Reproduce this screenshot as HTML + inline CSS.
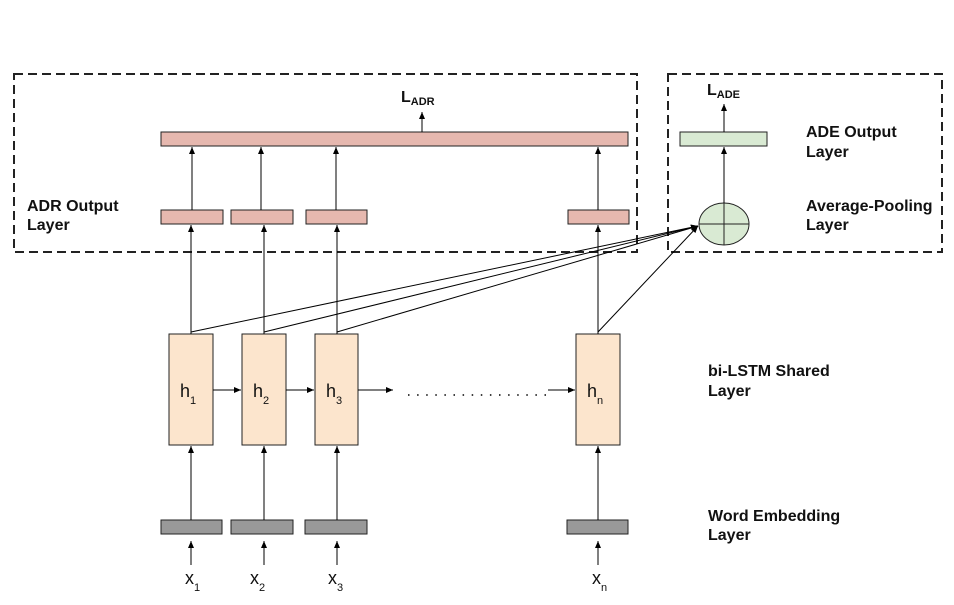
<!DOCTYPE html>
<html><head><meta charset="utf-8"><style>
html,body{margin:0;padding:0;background:#fff;}
svg{display:block;}
text{font-family:"Liberation Sans",Arial,sans-serif;}
.b{font-weight:bold;font-size:16px;fill:#111;}
</style></head><body>
<svg width="954" height="605" viewBox="0 0 954 605" xmlns="http://www.w3.org/2000/svg">
<defs>
<marker id="a" markerWidth="8" markerHeight="8" refX="7" refY="4" orient="auto" markerUnits="userSpaceOnUse">
<path d="M0,1 L7,4 L0,7 z" fill="#000"/></marker>
</defs>
<g fill="none" stroke="#222" stroke-width="2" stroke-dasharray="9,5">
<rect x="14" y="74" width="623" height="178"/>
<rect x="668" y="74" width="274" height="178"/>
</g>
<g stroke="#222" stroke-width="1">
<rect x="161" y="132" width="467" height="14" fill="#e6b8af"/>
<rect x="161" y="210" width="62" height="14" fill="#e6b8af"/>
<rect x="231" y="210" width="62" height="14" fill="#e6b8af"/>
<rect x="306" y="210" width="61" height="14" fill="#e6b8af"/>
<rect x="568" y="210" width="61" height="14" fill="#e6b8af"/>
<rect x="680" y="132" width="87" height="14" fill="#d9ead3"/>
<ellipse cx="724" cy="224" rx="25" ry="21" fill="#d9ead3"/>
<line x1="699" y1="224" x2="749" y2="224"/>
<line x1="724" y1="203" x2="724" y2="245"/>
<rect x="169" y="334" width="44" height="111" fill="#fce5cd"/>
<rect x="242" y="334" width="44" height="111" fill="#fce5cd"/>
<rect x="315" y="334" width="43" height="111" fill="#fce5cd"/>
<rect x="576" y="334" width="44" height="111" fill="#fce5cd"/>
<rect x="161" y="520" width="61" height="14" fill="#999"/>
<rect x="231" y="520" width="62" height="14" fill="#999"/>
<rect x="305" y="520" width="62" height="14" fill="#999"/>
<rect x="567" y="520" width="61" height="14" fill="#999"/>
</g>
<g stroke="#000" stroke-width="1" marker-end="url(#a)">
<line x1="422" y1="132" x2="422" y2="112"/>
<line x1="724" y1="132" x2="724" y2="104"/>
<line x1="724" y1="203" x2="724" y2="147"/>
<line x1="192" y1="210" x2="192" y2="147"/>
<line x1="261" y1="210" x2="261" y2="147"/>
<line x1="336" y1="210" x2="336" y2="147"/>
<line x1="598" y1="210" x2="598" y2="147"/>
<line x1="191" y1="334" x2="191" y2="225"/>
<line x1="264" y1="334" x2="264" y2="225"/>
<line x1="337" y1="334" x2="337" y2="225"/>
<line x1="598" y1="334" x2="598" y2="225"/>
<line x1="191" y1="332" x2="698" y2="226"/>
<line x1="264" y1="332" x2="698" y2="226"/>
<line x1="337" y1="332" x2="698" y2="226"/>
<line x1="598" y1="332" x2="698" y2="226"/>
<line x1="213" y1="390" x2="241" y2="390"/>
<line x1="286" y1="390" x2="314" y2="390"/>
<line x1="358" y1="390" x2="393" y2="390"/>
<line x1="548" y1="390" x2="575" y2="390"/>
<line x1="191" y1="520" x2="191" y2="446"/>
<line x1="264" y1="520" x2="264" y2="446"/>
<line x1="337" y1="520" x2="337" y2="446"/>
<line x1="598" y1="520" x2="598" y2="446"/>
<line x1="191" y1="565" x2="191" y2="541"/>
<line x1="264" y1="565" x2="264" y2="541"/>
<line x1="337" y1="565" x2="337" y2="541"/>
<line x1="598" y1="565" x2="598" y2="541"/>
</g>
<line x1="408" y1="395" x2="546" y2="395" stroke="#000" stroke-width="1.5" stroke-dasharray="1.5,7.6"/>
<g font-size="18" fill="#111">
<text x="180" y="397">h<tspan font-size="11" dy="7">1</tspan></text>
<text x="253" y="397">h<tspan font-size="11" dy="7">2</tspan></text>
<text x="326" y="397">h<tspan font-size="11" dy="7">3</tspan></text>
<text x="587" y="397">h<tspan font-size="11" dy="7">n</tspan></text>
<text x="185" y="584">x<tspan font-size="11" dy="7">1</tspan></text>
<text x="250" y="584">x<tspan font-size="11" dy="7">2</tspan></text>
<text x="328" y="584">x<tspan font-size="11" dy="7">3</tspan></text>
<text x="592" y="584">x<tspan font-size="11" dy="7">n</tspan></text>
</g>
<text x="401" y="102" class="b" font-size="17">L<tspan font-size="11" dy="3">ADR</tspan></text>
<text x="707" y="95" class="b" font-size="17">L<tspan font-size="11" dy="3">ADE</tspan></text>
<text class="b" x="27" y="211">ADR Output</text>
<text class="b" x="27" y="230">Layer</text>
<text class="b" x="806" y="137">ADE Output</text>
<text class="b" x="806" y="157">Layer</text>
<text class="b" x="806" y="211">Average-Pooling</text>
<text class="b" x="806" y="230">Layer</text>
<text class="b" x="708" y="376">bi-LSTM Shared</text>
<text class="b" x="708" y="396">Layer</text>
<text class="b" x="708" y="521">Word Embedding</text>
<text class="b" x="708" y="540">Layer</text>
</svg>
</body></html>
